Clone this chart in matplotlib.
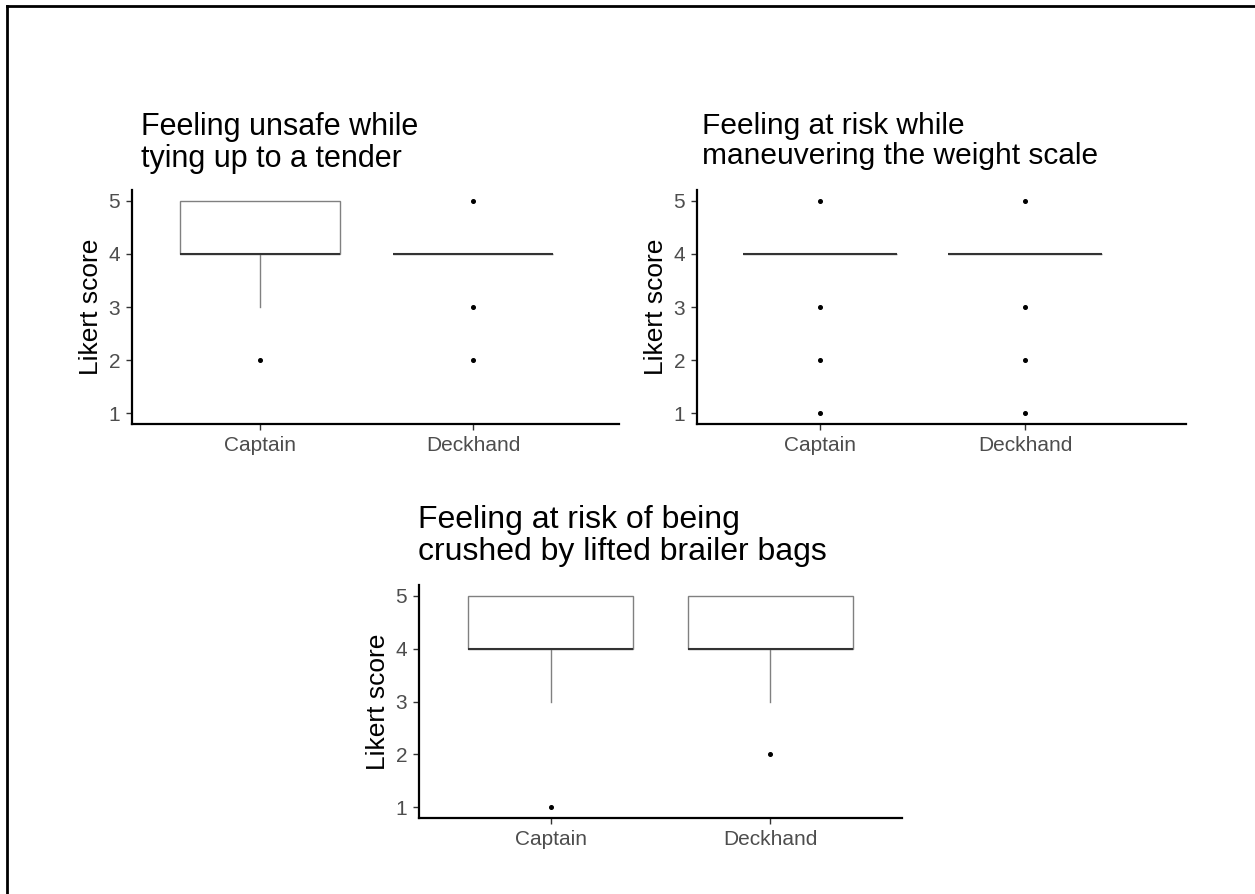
import matplotlib
matplotlib.use("Agg")
import matplotlib.pyplot as plt
from matplotlib.lines import Line2D

plt.rcParams['font.family'] = ['Liberation Sans', 'DejaVu Sans']

W, H = 1255, 894

groups = ["Captain", "Deckhand"]

titles = [
    "Feeling unsafe while\ntying up to a tender",
    "Feeling at risk while\nmaneuvering the weight scale",
    "Feeling at risk of being\ncrushed by lifted brailer bags",
]

# box summaries per panel: (q1, median, q3, lower whisker, upper whisker)
tender_box = [(4, 4, 5, 3, 5), (4, 4, 4, 4, 4)]
tender_out = [[2], [5, 3, 2]]

scale_box = [(4, 4, 4, 4, 4), (4, 4, 4, 4, 4)]
scale_out = [[5, 3, 2, 1], [5, 3, 2, 1]]

brailer_box = [(4, 4, 5, 3, 5), (4, 4, 5, 3, 5)]
brailer_out = [[1], [2]]

y_ticks = [1, 2, 3, 4, 5]

fig = plt.figure(figsize=(W / 100, H / 100), dpi=100)


def add_panel(left, top, right, bottom):
    return fig.add_axes([left / W, 1 - bottom / H, (right - left) / W, (bottom - top) / H])


def draw(ax, boxes, outliers, xmax):
    stats = []
    for name, (q1, med, q3, lo, hi), fl in zip(groups, boxes, outliers):
        stats.append(dict(label=name, q1=q1, med=med, q3=q3,
                          whislo=lo, whishi=hi, fliers=fl))
    ax.bxp(stats, positions=[1, 2], widths=0.75, showcaps=False,
           patch_artist=True,
           boxprops=dict(facecolor="white", edgecolor="#808080", linewidth=1),
           whiskerprops=dict(color="#808080", linewidth=1),
           medianprops=dict(color="#333333", linewidth=1.5),
           flierprops=dict(marker="o", markersize=2.6, markerfacecolor="black",
                           markeredgecolor="black"))
    ax.set_xlim(0.4, xmax)
    ax.set_ylim(0.8, 5.2)
    ax.set_yticks(y_ticks)
    ax.set_xticks([1, 2])
    ax.set_xticklabels(groups)
    for s in ["top", "right"]:
        ax.spines[s].set_visible(False)
    for s in ["left", "bottom"]:
        ax.spines[s].set_linewidth(1.6)
        ax.spines[s].set_color("black")
    ax.tick_params(axis="both", length=4.5, width=1, color="#333333",
                   labelsize=15, labelcolor="#4D4D4D", pad=4)
    ax.set_ylabel("Likert score", fontsize=19, color="black", labelpad=4)


ax1 = add_panel(132, 190, 619, 424)
draw(ax1, tender_box, tender_out, 2.685)
ax2 = add_panel(697, 190, 1186, 424)
draw(ax2, scale_box, scale_out, 2.785)
ax3 = add_panel(419, 585, 902, 818)
draw(ax3, brailer_box, brailer_out, 2.6)

# titles placed above each panel
for (x, y, size), t in zip([(141, 112, 22), (702, 112, 21.5), (418, 505, 23)], titles):
    fig.text(x / W, 1 - y / H, t, fontsize=size, color="black",
             ha="left", va="top", linespacing=1.1)

# partial frame along the top and left edges
fig.add_artist(Line2D([7 / W, 1], [1 - 6 / H, 1 - 6 / H], color="black", linewidth=2))
fig.add_artist(Line2D([7 / W, 7 / W], [0, 1 - 6 / H], color="black", linewidth=2))

fig.savefig("out.png", dpi=100, facecolor="white")
